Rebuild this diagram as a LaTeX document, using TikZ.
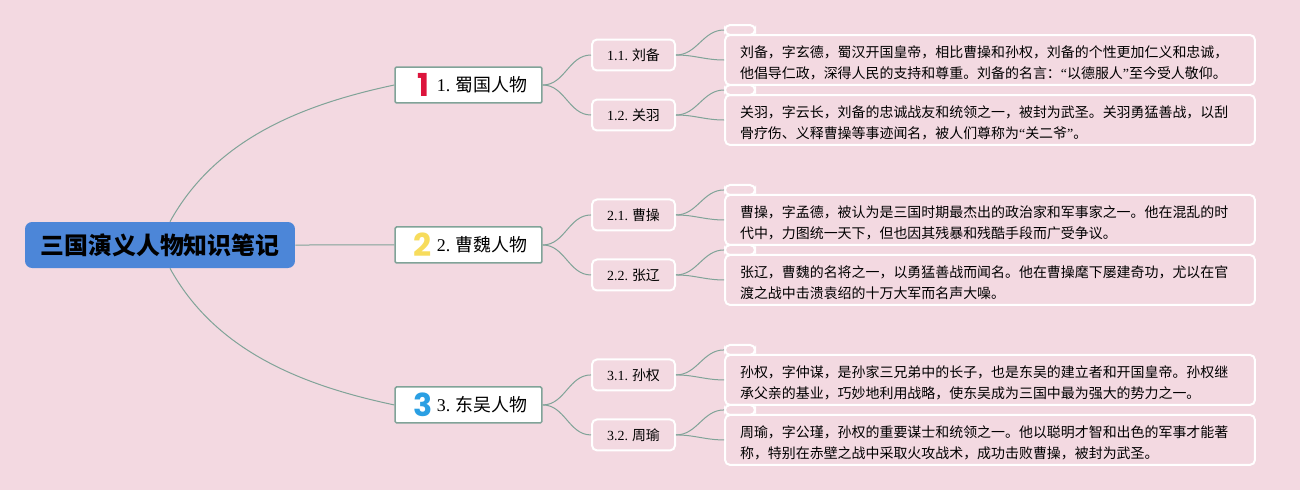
\documentclass[tikz,border=0pt]{standalone}
\usepackage{fontspec}
\setmainfont{Liberation Serif}
\newfontfamily\cjk{Noto Sans CJK SC}
\newfontfamily\iconfont{Poppins}
\usetikzlibrary{arrows.meta,positioning,calc}
\definecolor{bgpink}{HTML}{F3D9E1}
\definecolor{linegreen}{HTML}{80A398}
\definecolor{rootblue}{HTML}{4C86D8}
\definecolor{iconred}{HTML}{DC143C}
\definecolor{iconyellow}{HTML}{F7DC5C}
\definecolor{iconblue}{HTML}{2A9FE3}
\tikzset{
  rootbox/.style={fill=rootblue,rounded corners=0.14cm,minimum width=5.4cm,minimum height=0.92cm,inner sep=0pt,font=\fontsize{13.6}{16}\selectfont\cjk\bfseries},
  topicbox/.style={draw=linegreen,fill=white,line width=0.03cm,rounded corners=0.03cm,minimum height=0.72cm,text width=2.36cm,inner xsep=0.29cm,inner ysep=0pt,align=right,font=\fontsize{10.2}{12}\selectfont},
  subbox/.style={draw=white,line width=0.04cm,rounded corners=0.1cm,minimum width=1.66cm,minimum height=0.62cm,inner sep=0pt,font=\fontsize{7.94}{10}\selectfont},
  notebox/.style={draw=white,line width=0.04cm,rounded corners=0.1cm,minimum height=1cm,text width=10cm,inner xsep=0.3cm,inner ysep=0pt,align=left,font=\fontsize{7.94}{11.9}\selectfont\cjk,execute at begin node={\rule{0pt}{9.7pt}}},
  tagbox/.style={draw=white,line width=0.04cm,rounded corners=0.1cm,minimum width=0.6cm,minimum height=0.2cm,inner sep=0pt},
  iconnum/.style={inner sep=0pt,font=\fontsize{18}{18}\selectfont\iconfont\bfseries},
  link/.style={draw=linegreen,line width=0.02cm},
  sublink/.style={link,out=0,in=180,looseness=1}
}
\begin{document}
\begin{tikzpicture}[x=0.02cm,y=-0.02cm]
  \fill[bgpink] (0,0) rectangle (1300,490);
  \useasboundingbox (0,0) rectangle (1300,490);

  \node[rootbox] (root) at (160,245) {三国演义人物知识笔记};

  % 蜀国
  \begin{scope}[yshift=0cm]
    \node[topicbox] (shu) at (468.5,85) {1.\hspace{0.11cm}{\cjk 蜀国人物}};
    \node[iconnum,text=iconred] (shuicon) at (423,85) {1};
    \node[subbox] (liubei) at (633.5,55) {1.1.\hspace{0.08cm}{\cjk 刘备}};
    \node[subbox] (guanyu) at (633.5,115) {1.2.\hspace{0.08cm}{\cjk 关羽}};
    \node[tagbox] (liubeitag) at (740,30) {};
    \node[notebox] (liubeinote) at (990,60) {刘备^^^^ff0c字玄德^^^^ff0c蜀汉开国皇帝^^^^ff0c相比曹操和孙权^^^^ff0c刘备的个性更加仁义和忠诚^^^^ff0c\\他倡导仁政^^^^ff0c深得人民的支持和尊重。刘备的名言^^^^ff1a{\rmfamily “}以德服人{\rmfamily ”}至今受人敬仰。};
    \node[tagbox] (guanyutag) at (740,90) {};
    \node[notebox] (guanyunote) at (990,120) {关羽^^^^ff0c字云长^^^^ff0c刘备的忠诚战友和统领之一^^^^ff0c被封为武圣。关羽勇猛善战^^^^ff0c以刮\\骨疗伤、义释曹操等事迹闻名^^^^ff0c被人们尊称为{\rmfamily “}关二爷{\rmfamily ”}。};
    \draw[sublink] (shu.east) to (liubei.west);
    \draw[sublink] (shu.east) to (guanyu.west);
    \draw[sublink] (liubei.east) to (liubeitag.west);
    \draw[sublink] (liubei.east) to (liubeinote.west);
    \draw[sublink] (guanyu.east) to (guanyutag.west);
    \draw[sublink] (guanyu.east) to (guanyunote.west);
  \end{scope}

  % 曹魏
  \begin{scope}[yshift=-3.2cm]
    \node[topicbox] (wei) at (468.5,85) {2.\hspace{0.11cm}{\cjk 曹魏人物}};
    \node[iconnum,text=iconyellow] (weiicon) at (423,85) {2};
    \node[subbox] (caocao) at (633.5,55) {2.1.\hspace{0.08cm}{\cjk 曹操}};
    \node[subbox] (zhangliao) at (633.5,115) {2.2.\hspace{0.08cm}{\cjk 张辽}};
    \node[tagbox] (caocaotag) at (740,30) {};
    \node[notebox] (caocaonote) at (990,60) {曹操^^^^ff0c字孟德^^^^ff0c被认为是三国时期最杰出的政治家和军事家之一。他在混乱的时\\代中^^^^ff0c力图统一天下^^^^ff0c但也因其残暴和残酷手段而广受争议。};
    \node[tagbox] (zhangliaotag) at (740,90) {};
    \node[notebox] (zhangliaonote) at (990,120) {张辽^^^^ff0c曹魏的名将之一^^^^ff0c以勇猛善战而闻名。他在曹操麾下屡建奇功^^^^ff0c尤以在官\\渡之战中击溃袁绍的十万大军而名声大噪。};
    \draw[sublink] (wei.east) to (caocao.west);
    \draw[sublink] (wei.east) to (zhangliao.west);
    \draw[sublink] (caocao.east) to (caocaotag.west);
    \draw[sublink] (caocao.east) to (caocaonote.west);
    \draw[sublink] (zhangliao.east) to (zhangliaotag.west);
    \draw[sublink] (zhangliao.east) to (zhangliaonote.west);
  \end{scope}

  % 东吴
  \begin{scope}[yshift=-6.4cm]
    \node[topicbox] (wu) at (468.5,85) {3.\hspace{0.11cm}{\cjk 东吴人物}};
    \node[iconnum,text=iconblue] (wuicon) at (423,85) {3};
    \node[subbox] (sunquan) at (633.5,55) {3.1.\hspace{0.08cm}{\cjk 孙权}};
    \node[subbox] (zhouyu) at (633.5,115) {3.2.\hspace{0.08cm}{\cjk 周瑜}};
    \node[tagbox] (sunquantag) at (740,30) {};
    \node[notebox] (sunquannote) at (990,60) {孙权^^^^ff0c字仲谋^^^^ff0c是孙家三兄弟中的长子^^^^ff0c也是东吴的建立者和开国皇帝。孙权继\\承父亲的基业^^^^ff0c巧妙地利用战略^^^^ff0c使东吴成为三国中最为强大的势力之一。};
    \node[tagbox] (zhouyutag) at (740,90) {};
    \node[notebox] (zhouyunote) at (990,120) {周瑜^^^^ff0c字公瑾^^^^ff0c孙权的重要谋士和统领之一。他以聪明才智和出色的军事才能著\\称^^^^ff0c特别在赤壁之战中采取火攻战术^^^^ff0c成功击败曹操^^^^ff0c被封为武圣。};
    \draw[sublink] (wu.east) to (sunquan.west);
    \draw[sublink] (wu.east) to (zhouyu.west);
    \draw[sublink] (sunquan.east) to (sunquantag.west);
    \draw[sublink] (sunquan.east) to (sunquannote.west);
    \draw[sublink] (zhouyu.east) to (zhouyutag.west);
    \draw[sublink] (zhouyu.east) to (zhouyunote.west);
  \end{scope}

  \draw[link] ([xshift=0.2cm]root.north) .. controls (215,140) and (300,105) .. (shu.west);
  \draw[link] (root.east) -- (wei.west);
  \draw[link] ([xshift=0.2cm]root.south) .. controls (215,350) and (300,385) .. (wu.west);
\end{tikzpicture}
\end{document}
